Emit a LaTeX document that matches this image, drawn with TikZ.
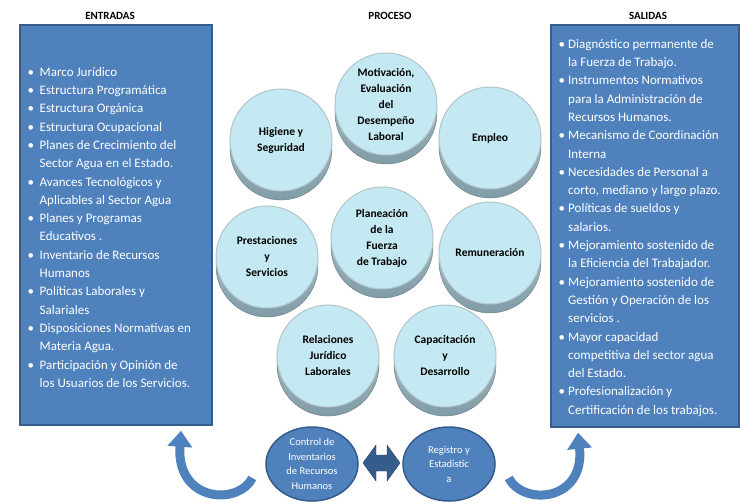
\documentclass[tikz,border=0pt]{standalone}
\usepackage{fontspec}
\setmainfont{Carlito}
\usetikzlibrary{shapes.geometric,arrows.meta}
\definecolor{boxblue}{RGB}{79,129,189}
\definecolor{boxedge}{RGB}{54,92,140}
\definecolor{capface}{RGB}{196,233,242}
\definecolor{caprim}{RGB}{128,156,166}
\newcommand{\bul}{\makebox[12pt][l]{\textbullet}}
\newcommand{\bsp}{\hspace*{12pt}}
\newcommand{\bulr}{\makebox[9.5pt][l]{\textbullet}}
\newcommand{\bspr}{\hspace*{9.5pt}}

\begin{document}
\begin{tikzpicture}[x=1pt,y=-1pt,
  title/.style={font=\bfseries\fontsize{11}{13}\selectfont},
  bigbox/.style={rectangle,draw=boxedge,line width=1.5pt,fill=boxblue,inner sep=0pt},
  listtext/.style={text=white,align=left,anchor=north west,inner sep=0pt,font=\fontsize{13}{18.3}\selectfont},
  rim/.style={circle,minimum size=102pt,inner sep=0pt,top color=caprim!55,bottom color=caprim,draw=caprim!80!black},
  disc/.style={circle,minimum size=102pt,inner sep=0pt,fill=capface,draw=caprim!60,line width=1pt,align=center,font=\bfseries\fontsize{11.5}{16}\selectfont},
  oval/.style={ellipse,minimum width=92pt,minimum height=74pt,inner sep=0pt,fill=boxblue,draw=boxedge,line width=1.5pt,text=white,align=center,font=\fontsize{10.5}{14.5}\selectfont},
  loop/.style={draw=boxblue,line width=9pt,-{Triangle[width=24pt,length=16pt]}}
]
\useasboundingbox (0,0) rectangle (741,503);

% titles
\node [title] (tin) at (110,16) {ENTRADAS};
\node [title] (tpro) at (390,16) {PROCESO};
\node [title] (tout) at (648,16) {SALIDAS};

% boxes
\node [bigbox,minimum width=192pt,minimum height=400pt] (inbox) at (116,225) {};
\node [bigbox,minimum width=188pt,minimum height=402pt] (outbox) at (645,226) {};

\node [listtext] (inlist) at (27.5,67) {%
\bul Marco Jurídico\\
\bul Estructura Programática\\
\bul Estructura Orgánica\\
\bul Estructura Ocupacional\\
\bul Planes de Crecimiento del\\
\bsp Sector Agua en el Estado.\\
\bul Avances Tecnológicos y\\
\bsp Aplicables al Sector Agua\\
\bul Planes y Programas\\
\bsp Educativos .\\
\bul Inventario de Recursos\\
\bsp Humanos\\
\bul Políticas Laborales y\\
\bsp Salariales\\
\bul Disposiciones Normativas en\\
\bsp Materia Agua.\\
\bul Participación y Opinión de\\
\bsp los Usuarios de los Servicios.};

\node [listtext] (outlist) at (558.5,39) {%
\bulr Diagnóstico permanente de\\
\bspr la Fuerza de Trabajo.\\
\bulr Instrumentos Normativos\\
\bspr para la Administración de\\
\bspr Recursos Humanos.\\
\bulr Mecanismo de Coordinación\\
\bspr Interna\\
\bulr Necesidades de Personal a\\
\bspr corto, mediano y largo plazo.\\
\bulr Políticas de sueldos y\\
\bspr salarios.\\
\bulr Mejoramiento sostenido de\\
\bspr la Eficiencia del Trabajador.\\
\bulr Mejoramiento sostenido de\\
\bspr Gestión y Operación de los\\
\bspr servicios .\\
\bulr Mayor capacidad\\
\bspr competitiva del sector agua\\
\bspr del Estado.\\
\bulr Profesionalización y\\
\bspr Certificación de los trabajos.};

% process discs
\foreach \x/\y in {386/104,281/140,490/138,382/238,267/257,490/253,328/356,445/356}
  \node [rim] at (\x,\y+9) {};

\node [disc] (mot) at (386,104) {Motivación,\\Evaluación\\del\\Desempeño\\Laboral};
\node [disc] (hig) at (281,140) {Higiene y\\Seguridad};
\node [disc] (emp) at (490,138) {Empleo};
\node [disc] (pla) at (382,238) {Planeación\\de la\\Fuerza\\de Trabajo};
\node [disc] (pre) at (267,257) {Prestaciones\\y\\Servicios};
\node [disc] (rem) at (490,253) {Remuneración};
\node [disc] (rel) at (328,356) {Relaciones\\Jurídico\\Laborales};
\node [disc] (cap) at (445,356) {Capacitación\\y\\Desarrollo};

% bottom
\node [oval] (ctrl) at (312,464) {Control de\\Inventarios\\de Recursos\\Humanos};
\node [oval] (reg) at (449,464) {Registro y\\Estadistic\\a};

% double arrow
\filldraw [fill=boxedge,draw=boxedge!70!black] (363,463) -- (376,445) -- (376,455) -- (387,455) -- (387,445) -- (400,463)
  -- (387,481) -- (387,471) -- (376,471) -- (376,481) -- cycle;

\draw [loop] ([shift={(-13,14)}]ctrl.west) .. controls (238,506) and (176,502) .. ([shift={(65,5)}]inbox.south);
\draw [loop] ([shift={(13,14)}]reg.east) .. controls (523,506) and (585,502) .. ([shift={(-67,5)}]outbox.south);

\end{tikzpicture}
\end{document}
